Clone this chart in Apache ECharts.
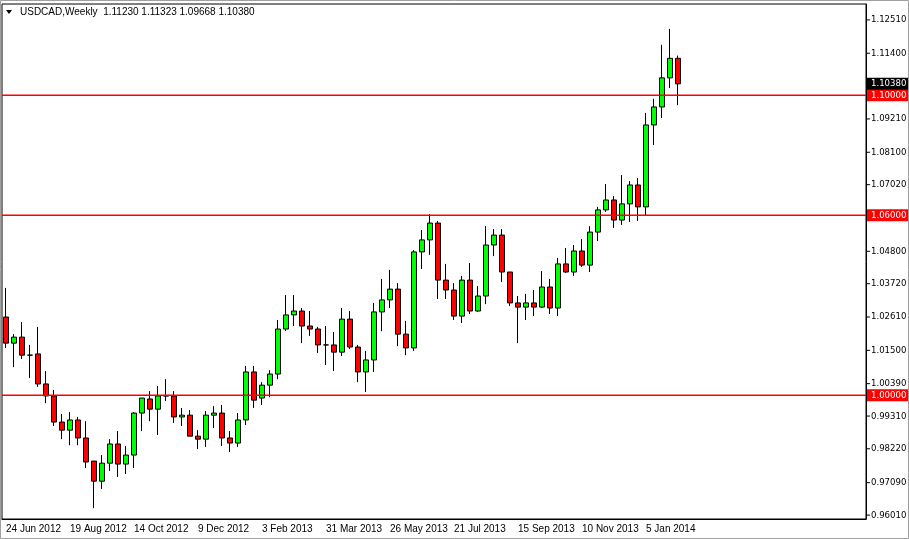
<!DOCTYPE html>
<html>
<head>
<meta charset="UTF-8">
<title>USDCAD Weekly</title>
<script src="https://cdn.jsdelivr.net/npm/echarts@6/dist/echarts.min.js"></script>
<style>
  * { margin: 0; padding: 0; }
  html, body { width: 909px; height: 539px; overflow: hidden; background: #fff; }
  #main { width: 909px; height: 539px; }
</style>
</head>
<body>
<div id="main"></div>
<script>
// weekly candles, 24 Jun 2012 .. 2 Feb 2014
var opens  = [1.0261,1.0174,1.0194,1.0134,1.0138,1.0038,0.9998,0.9911,0.9884,0.9918,0.9858,0.9781,0.9714,0.9774,0.9838,0.9771,0.9801,0.9941,0.9988,0.9954,0.9998,0.9998,0.9928,0.9934,0.9864,0.9854,0.9934,0.9941,0.9858,0.9841,0.9918,1.0078,0.9991,1.0034,1.0071,1.0221,1.0268,1.0281,1.0231,1.0221,1.0168,1.0168,1.0144,1.0254,1.0161,1.0078,1.0118,1.0278,1.0318,1.0354,1.0204,1.0158,1.0478,1.0518,1.0574,1.0384,1.0351,1.0264,1.0384,1.0281,1.0331,1.0501,1.0534,1.0411,1.0308,1.0294,1.0308,1.0294,1.0361,1.0291,1.0438,1.0411,1.0481,1.0434,1.0544,1.0618,1.0651,1.0584,1.0638,1.0701,1.0628,1.0901,1.0961,1.1058,1.1123];
var closes = [1.0174,1.0194,1.0134,1.0134,1.0038,0.9998,0.9911,0.9884,0.9918,0.9858,0.9778,0.9714,0.9774,0.9838,0.9771,0.9801,0.9941,0.9991,0.9954,0.9998,0.9998,0.9928,0.9934,0.9864,0.9854,0.9934,0.9941,0.9858,0.9841,0.9918,1.0078,0.9984,1.0034,1.0071,1.0221,1.0268,1.0281,1.0231,1.0221,1.0168,1.0168,1.0144,1.0254,1.0161,1.0078,1.0118,1.0278,1.0318,1.0354,1.0204,1.0158,1.0478,1.0518,1.0574,1.0384,1.0351,1.0264,1.0384,1.0281,1.0331,1.0501,1.0534,1.0411,1.0308,1.0294,1.0308,1.0294,1.0361,1.0291,1.0438,1.0411,1.0481,1.0434,1.0544,1.0618,1.0651,1.0584,1.0638,1.0701,1.0628,1.0901,1.0961,1.1058,1.1123,1.1038];
var lows   = [1.0158,1.0094,1.0121,1.0058,1.0028,0.9974,0.9898,0.9854,0.9834,0.9834,0.9758,0.9624,0.9688,0.9748,0.9728,0.9738,0.9758,0.9881,0.9914,0.9868,0.9981,0.9908,0.9898,0.9864,0.9821,0.9828,0.9891,0.9831,0.9811,0.9828,0.9901,0.9958,0.9968,0.9994,1.0054,1.0214,1.0231,1.0174,1.0198,1.0141,1.0101,1.0081,1.0131,1.0154,1.0044,1.0011,1.0078,1.0214,1.0291,1.0164,1.0134,1.0148,1.0421,1.0468,1.0321,1.0321,1.0251,1.0241,1.0271,1.0278,1.0304,1.0464,1.0378,1.0298,1.0174,1.0251,1.0264,1.0291,1.0271,1.0264,1.0408,1.0398,1.0428,1.0411,1.0514,1.0611,1.0558,1.0568,1.0578,1.0581,1.0601,1.0834,1.0924,1.1024,1.0967];
var highs  = [1.0358,1.0204,1.0244,1.0168,1.0228,1.0081,1.0018,0.9938,0.9944,0.9928,0.9914,0.9781,0.9801,0.9854,0.9881,0.9831,0.9944,0.9991,1.0014,1.0031,1.0054,1.0014,0.9958,0.9951,0.9884,0.9948,0.9964,0.9968,0.9881,0.9941,1.0098,1.0098,1.0044,1.0084,1.0251,1.0334,1.0334,1.0291,1.0281,1.0228,1.0231,1.0211,1.0291,1.0281,1.0168,1.0148,1.0308,1.0388,1.0418,1.0374,1.0248,1.0484,1.0551,1.0604,1.0581,1.0438,1.0374,1.0398,1.0441,1.0364,1.0564,1.0554,1.0554,1.0411,1.0331,1.0338,1.0351,1.0414,1.0388,1.0458,1.0491,1.0501,1.0521,1.0564,1.0628,1.0704,1.0664,1.0734,1.0714,1.0724,1.0941,1.0988,1.1168,1.1221,1.1132];
var dateLabels = ['24 Jun 2012','19 Aug 2012','14 Oct 2012','9 Dec 2012','3 Feb 2013','31 Mar 2013','26 May 2013','21 Jul 2013','15 Sep 2013','10 Nov 2013','5 Jan 2014'];
var priceTicks = [1.12510,1.11400,1.09210,1.08100,1.07020,1.04800,1.03720,1.02610,1.01500,1.00390,0.99310,0.98220,0.97090,0.96010];
var levels = [1.10000, 1.06000, 1.00000];
var lastPrice = 1.10380;

var SLOTS = 108;
var cats = [];
var candles = [];
for (var i = 0; i < SLOTS; i++) {
  cats.push(i);
  if (i < opens.length) candles.push([opens[i], closes[i], lows[i], highs[i]]);
  else candles.push('-');
}

var chart = echarts.init(document.getElementById('main'));
var fnt = '"DejaVu Sans Condensed", "Liberation Sans"';
var left = 2, right = 43;
chart.setOption({
  animation: false,
  backgroundColor: '#fff',
  grid: { left: left, right: right, top: 4, bottom: 20, show: true, borderColor: '#000', borderWidth: 1 },
  xAxis: {
    type: 'category', data: cats, boundaryGap: true,
    axisLine: { lineStyle: { color: '#000' } },
    axisTick: { show: false },
    splitLine: { show: false },
    axisLabel: {
      interval: 0, align: 'left', margin: 5, color: '#000', fontFamily: 'Liberation Sans', fontSize: 10,
      formatter: function (v, idx) { return (idx % 8 === 0 && idx / 8 < dateLabels.length) ? dateLabels[idx / 8] : ''; }
    }
  },
  yAxis: {
    type: 'value', position: 'right', min: 0.9588, max: 1.1304, scale: true,
    axisLine: { show: true, lineStyle: { color: '#000' } },
    axisLabel: { show: false }, axisTick: { show: false }, splitLine: { show: false }
  },
  series: [{
    type: 'candlestick', data: candles, barWidth: 6,
    itemStyle: { color: '#00ff00', color0: '#ff0000', borderColor: '#000', borderColor0: '#000', borderWidth: 1 }
  }]
});

// horizontal levels and right price scale, placed through the axis scale
var g = [];
var xr = 909 - right;
levels.forEach(function (v) {
  var y = Math.round(chart.convertToPixel({ yAxisIndex: 0 }, v));
  g.push({ type: 'rect', z: 10, shape: { x: left, y: y - 0.5, width: xr - left, height: 1.5 }, style: { fill: '#ff0000', stroke: null } });
});
function addLabel(v, bg) {
  var y = chart.convertToPixel({ yAxisIndex: 0 }, v);
  g.push({ type: 'line', shape: { x1: xr, y1: y, x2: xr + 4, y2: y }, style: { stroke: '#000' } });
  if (bg) g.push({ type: 'rect', shape: { x: xr + 1, y: y - 6, width: 41, height: 12 }, style: { fill: bg } });
  g.push({ type: 'text', x: xr + 5, y: y, style: { text: v.toFixed(5), fill: bg ? '#fff' : '#000', font: '9.5px ' + fnt, verticalAlign: 'middle' } });
}
priceTicks.forEach(function (v) { addLabel(v, null); });
levels.forEach(function (v) { addLabel(v, '#ff0000'); });
addLabel(lastPrice, '#000');
g.push({ type: 'text', x: 20, y: 12, style: { text: 'USDCAD,Weekly  1.11230 1.11323 1.09668 1.10380', fill: '#000', font: '10px Liberation Sans', verticalAlign: 'middle' } });
g.push({ type: 'polygon', shape: { points: [[6, 10], [12, 10], [9, 14]] }, style: { fill: '#000' } });
g.push({ type: 'rect', shape: { x: 0.5, y: 0.5, width: 908, height: 538 }, style: { fill: 'none', stroke: '#a0a0a0' } });
chart.setOption({ graphic: g });
</script>
</body>
</html>
